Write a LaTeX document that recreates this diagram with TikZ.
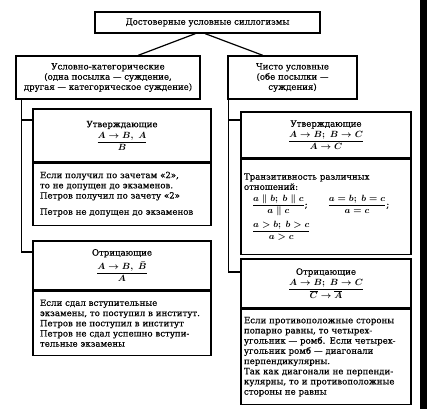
\documentclass[tikz,border=0pt]{standalone}
\usepackage{amsmath}
\usepackage{fontspec}
\setmainfont{DejaVu Serif}[FakeBold=0.4]
\usetikzlibrary{positioning}

\newcommand{\rulefrac}[2]{{\fontsize{9.5}{11}\selectfont\boldmath$\dfrac{#1}{#2}$}}

\begin{document}
\begin{tikzpicture}[x=1pt,y=-1pt]
\tikzstyle{every node}+=[inner sep=0pt]
\tikzstyle{box}=[draw,line width=1.2pt,font=\fontsize{8.6}{10.2}\selectfont]
\tikzstyle{headbox}=[box,align=center]
\tikzstyle{lbody}=[box,align=left,inner xsep=7pt,text width=164pt]
\tikzstyle{rbody}=[box,align=left,inner xsep=3pt,text width=164pt]
\tikzstyle{wire}=[line width=1.2pt]
\path[fill=white,use as bounding box] (0,0) rectangle (427,409);
\fill[black] (420,0) rectangle (427,409);
\node [headbox,minimum width=225pt,minimum height=21pt] (root) at (207.5,22.5) {Достоверные условные силлогизмы};
\node [headbox,minimum width=184pt,minimum height=43pt] (condcat) at (108,77.5) {Условно-категорические\\(одна посылка — суждение,\\другая — категорическое суждение)};
\node [headbox,minimum width=129pt,minimum height=43pt] (pure) at (292.5,77.5) {Чисто условные\\(обе посылки —\\суждения)};
\draw [wire] ([xshift=-12pt]root.south) -- ([xshift=30pt]condcat.north);
\draw [wire] ([xshift=-2.5pt]root.south) -- ([xshift=-29.5pt]pure.north);
% left branch
\node [headbox,minimum width=178pt,minimum height=53pt] (lhead1) at (122,135.5) {Утверждающие\\[2pt]\rulefrac{A\to B,\ A}{B}};
\node [lbody,minimum height=62pt,below=0pt of lhead1] (lbody1) {Если получил по зачетам «2»,\\то не допущен до экзаменов.\\Петров получил по зачету «2»\\[6pt]Петров не допущен до экзаменов};
\node [headbox,minimum width=178pt,minimum height=49pt] (lhead2) at (122,265.5) {Отрицающие\\[4pt]\rulefrac{A\to B,\ \bar{B}}{A}};
\node [lbody,minimum height=64pt,below=0pt of lhead2] (lbody2) {Если сдал вступительные\\экзамены, то поступил в институт.\\Петров не поступил в институт\\Петров не сдал успешно вступи-\\тельные экзамены};
\coordinate (ltrunk) at ([xshift=6pt]condcat.south west);
\coordinate (lin1) at ([yshift=15.5pt]lhead1.west);
\coordinate (lin2) at ([yshift=13.5pt]lhead2.west);
\draw [wire] (ltrunk) |- (lin2);
\draw [wire] (ltrunk |- lin1) -- (lin1);
% right branch
\node [headbox,minimum width=170pt,minimum height=46pt] (rhead1) at (326,135) {Утверждающие\\[2pt]\rulefrac{A\to B;\ B\to C}{A\to C}};
\node [rbody,minimum height=95pt,below=0pt of rhead1] (rbody1) {Транзитивность различных\\отношений:\\[4pt]\hspace*{8pt}\rulefrac{a\parallel b;\ b\parallel c}{a\parallel c};\hspace{20pt}\rulefrac{a=b;\ b=c}{a=c};\\[4pt]\hspace*{8pt}\rulefrac{a>b;\ b>c}{a>c}};
\node [headbox,minimum width=170pt,minimum height=49pt] (rhead2) at (326,283.5) {Отрицающие\\[2pt]\rulefrac{A\to B;\ B\to C}{\overline{C}\to\overline{A}}};
\node [rbody,minimum height=95pt,below=0pt of rhead2] (rbody2) {Если противоположные стороны\\попарно равны, то четырех-\\угольник — ромб. Если четырех-\\угольник ромб — диагонали\\перпендикулярны.\\Так как диагонали не перпенди-\\кулярны, то и противоположные\\стороны не равны};
\coordinate (rtrunk) at ([xshift=1pt]pure.south west);
\coordinate (rin1) at ([yshift=15pt]rhead1.west);
\coordinate (rin2) at ([yshift=11.5pt]rhead2.west);
\draw [wire] (rtrunk) |- (rin2);
\draw [wire] (rtrunk |- rin1) -- (rin1);
\end{tikzpicture}
\end{document}
